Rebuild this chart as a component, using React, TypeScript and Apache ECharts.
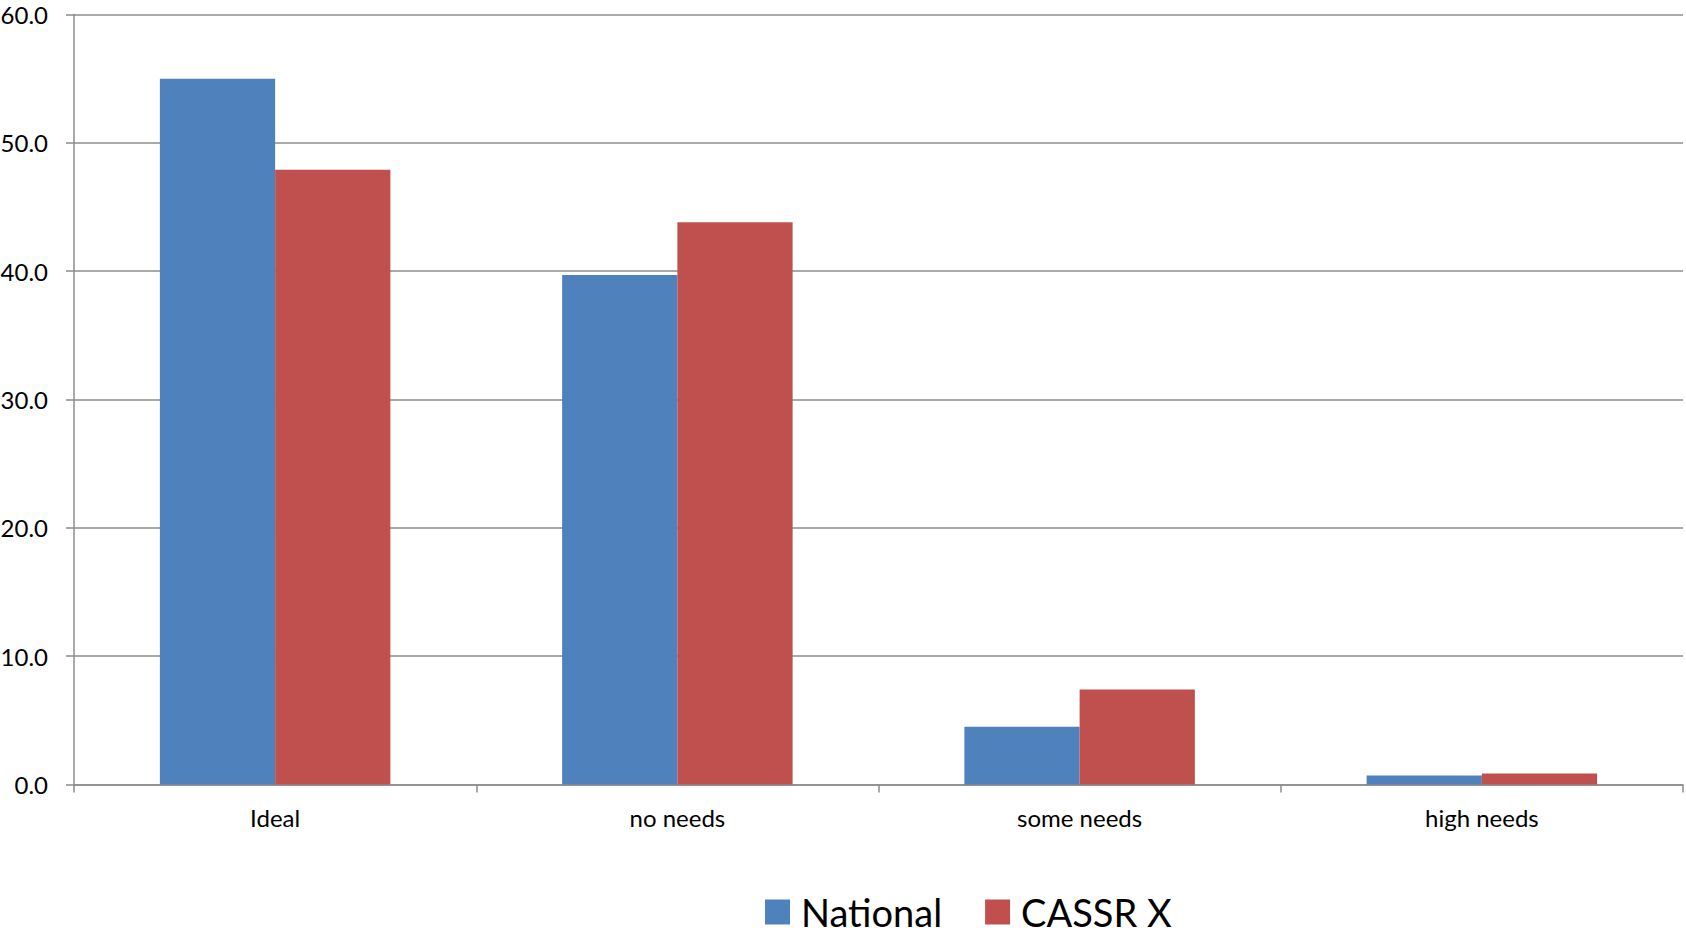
import React, { useEffect, useRef } from "react";
import * as echarts from "echarts";

// Share of people in each needs group (%)
const categories = ["Ideal", "no needs", "some needs", "high needs"];
const national = [55.0, 39.7, 4.5, 0.7];
const cassrX = [47.9, 43.8, 7.4, 0.85];
const seriesNames = ["National", "CASSR X"];

const FONT = "Lato, 'Open Sans', sans-serif";
const GRID_COLOR = "#8c8c8c";

export default function App() {
  const ref = useRef<HTMLDivElement>(null);

  useEffect(() => {
    document.body.style.margin = "0";
    const chart = echarts.init(ref.current!, null, { renderer: "svg" });
    chart.setOption({
      animation: false,
      backgroundColor: "#ffffff",
      grid: {
        left: 74,
        right: 3,
        top: 14.5,
        bottom: 143.6,
        containLabel: false,
        outerBoundsMode: "none",
      },
      legend: {
        data: seriesNames,
        left: 765,
        top: 893,
        padding: 0,
        icon: "rect",
        itemWidth: 25,
        itemHeight: 25,
        itemGap: 43,
        textStyle: {
          fontFamily: FONT,
          fontSize: 38,
          lineHeight: 38,
          color: "#000",
          padding: [0, 0, 0, 6],
        },
      },
      xAxis: {
        type: "category",
        data: categories,
        axisLine: { show: true, lineStyle: { color: GRID_COLOR, width: 1.5 } },
        axisTick: { show: true, length: 8, lineStyle: { color: GRID_COLOR, width: 1.5 } },
        axisLabel: { fontFamily: FONT, fontSize: 24, color: "#000", margin: 21 },
      },
      yAxis: {
        type: "value",
        min: 0,
        max: 60,
        interval: 10,
        axisLine: { show: true, lineStyle: { color: GRID_COLOR, width: 1.5 } },
        axisTick: { show: true, inside: false, length: 8, lineStyle: { color: GRID_COLOR, width: 1.5 } },
        axisLabel: {
          fontFamily: FONT,
          fontSize: 24,
          color: "#000",
          margin: 26,
          formatter: (v: number) => v.toFixed(1),
        },
        splitLine: { show: true, lineStyle: { color: GRID_COLOR, width: 1.5 } },
      },
      series: [
        {
          name: seriesNames[0],
          type: "bar",
          data: national,
          barGap: "0%",
          barCategoryGap: "42.7%",
          itemStyle: { color: "#4F81BD" },
        },
        {
          name: seriesNames[1],
          type: "bar",
          data: cassrX,
          barGap: "0%",
          barCategoryGap: "42.7%",
          itemStyle: { color: "#C0504D" },
        },
      ],
    });
    return () => chart.dispose();
  }, []);

  return (
    <div
      ref={ref}
      style={{ position: "absolute", left: 0, top: 0, width: 1686, height: 928 }}
    />
  );
}
